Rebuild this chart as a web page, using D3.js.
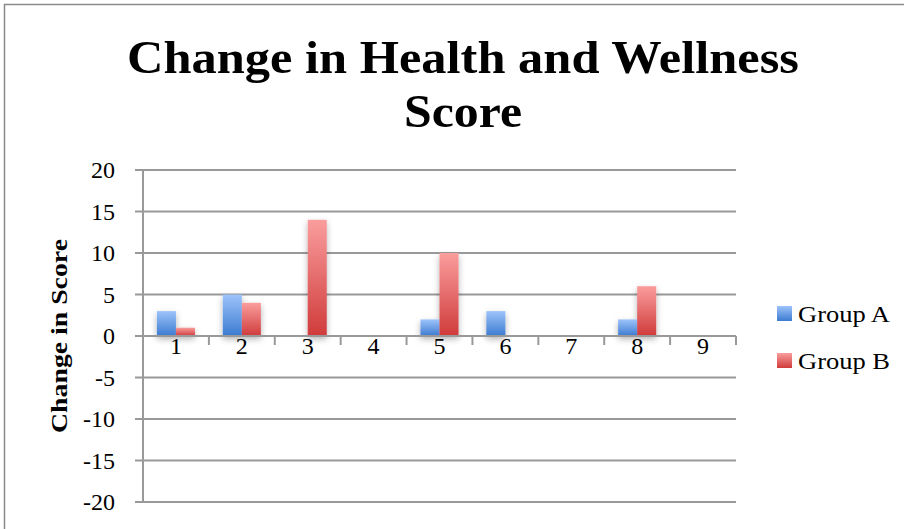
<!DOCTYPE html>
<html>
<head>
<meta charset="utf-8">
<script src="https://cdn.jsdelivr.net/npm/d3@7"></script>
<style>
  body { margin: 0; background: #fff; }
  svg { display: block; }
</style>
</head>
<body>
<div id="chart"></div>
<script>
const categories = ["1", "2", "3", "4", "5", "6", "7", "8", "9"];
const groupA = [3, 5, 0, 0, 2, 3, 0, 2, 0];
const groupB = [1, 4, 14, 0, 10, 0, 0, 6, 0];
const seriesNames = ["Group A", "Group B"];
const yTicks = [20, 15, 10, 5, 0, -5, -10, -15, -20];

const width = 904, height = 529;
const font = "'Liberation Serif', 'DejaVu Serif', serif";
const margin = {left: 143, right: 168, top: 170, bottom: 27};

const svg = d3.select("#chart").append("svg")
  .attr("width", width)
  .attr("height", height);

const defs = svg.append("defs");
// gradients for the two series
const grads = [["gradA", "#9dc3fa", "#3c7bd1"], ["gradB", "#fa9d9d", "#d03b3b"]];
grads.forEach(g => {
  let lg = defs.append("linearGradient").attr("id", g[0])
    .attr("x1", 0).attr("y1", 0).attr("x2", 0).attr("y2", 1);
  lg.append("stop").attr("offset", "0%").attr("stop-color", g[1]);
  lg.append("stop").attr("offset", "100%").attr("stop-color", g[2]);
});
const shadow = defs.append("filter").attr("id", "shadow")
  .attr("x", "-30%").attr("y", "-30%").attr("width", "160%").attr("height", "160%");
shadow.append("feDropShadow").attr("dx", 0).attr("dy", 3).attr("stdDeviation", 3)
  .attr("flood-color", "#000").attr("flood-opacity", 0.3);

// outer chart border
svg.append("path")
  .attr("d", `M4.5,${height} L4.5,4.5 L${width},4.5`)
  .attr("fill", "none").attr("stroke", "#8a8a8a").attr("stroke-width", 1.5);

// title
svg.append("text")
  .attr("x", 463).attr("y", 73)
  .attr("text-anchor", "middle")
  .attr("font-family", font).attr("font-weight", "bold").attr("font-size", 47)
  .attr("textLength", 672).attr("lengthAdjust", "spacingAndGlyphs")
  .text("Change in Health and Wellness");
svg.append("text")
  .attr("x", 463).attr("y", 127)
  .attr("text-anchor", "middle")
  .attr("font-family", font).attr("font-weight", "bold").attr("font-size", 47)
  .attr("textLength", 118).attr("lengthAdjust", "spacingAndGlyphs")
  .text("Score");

const x = d3.scaleBand()
  .domain(categories)
  .range([margin.left, width - margin.right]);

const xSub = d3.scaleBand()
  .domain(seriesNames)
  .range([0, x.bandwidth()])
  .paddingInner(0)
  .paddingOuter(0.73);

const y = d3.scaleLinear()
  .domain([-20, 20])
  .range([height - margin.bottom, margin.top]);

// gridlines
svg.append("g")
  .selectAll("line")
  .data(yTicks)
  .join("line")
  .attr("x1", margin.left - 8).attr("x2", width - margin.right)
  .attr("y1", d => y(d)).attr("y2", d => y(d))
  .attr("stroke", "#999").attr("stroke-width", 2);

// y axis line
svg.append("line")
  .attr("x1", margin.left).attr("x2", margin.left)
  .attr("y1", y(20)).attr("y2", y(-20) + 1)
  .attr("stroke", "#999").attr("stroke-width", 2);

// y tick labels
svg.append("g")
  .selectAll("text")
  .data(yTicks)
  .join("text")
  .attr("x", 115).attr("y", d => y(d))
  .attr("dy", "0.35em")
  .attr("text-anchor", "end")
  .attr("font-family", font).attr("font-size", 24)
  .text(d => d);

// y axis title
svg.append("text")
  .attr("transform", `translate(67,${(y(20) + y(-20)) / 2}) rotate(-90)`)
  .attr("text-anchor", "middle")
  .attr("font-family", font).attr("font-weight", "bold").attr("font-size", 24)
  .attr("textLength", 194).attr("lengthAdjust", "spacingAndGlyphs")
  .text("Change in Score");

// bars
const rows = categories.map((c, i) => ({cat: c, vals: [groupA[i], groupB[i]]}));
const barG = svg.append("g").attr("filter", "url(#shadow)");
rows.forEach(r => {
  r.vals.forEach((v, j) => {
    barG.append("rect")
      .attr("x", x(r.cat) + xSub(seriesNames[j]))
      .attr("width", xSub.bandwidth())
      .attr("y", y(Math.max(v, 0)))
      .attr("height", Math.max(Math.abs(y(v) - y(0)), 0.01))
      .attr("fill", j === 0 ? "url(#gradA)" : "url(#gradB)");
  });
});

// x axis at zero with ticks at category boundaries
svg.append("line")
  .attr("x1", margin.left).attr("x2", width - margin.right)
  .attr("y1", y(0)).attr("y2", y(0))
  .attr("stroke", "#999").attr("stroke-width", 2);
svg.append("g")
  .selectAll("line")
  .data(categories)
  .join("line")
  .attr("x1", d => x(d) + x.bandwidth()).attr("x2", d => x(d) + x.bandwidth())
  .attr("y1", y(0)).attr("y2", y(0) + 9)
  .attr("stroke", "#999").attr("stroke-width", 2);

// x labels
svg.append("g")
  .selectAll("text")
  .data(categories)
  .join("text")
  .attr("x", d => x(d) + x.bandwidth() / 2)
  .attr("y", y(0) + 10)
  .attr("dy", "0.35em")
  .attr("text-anchor", "middle")
  .attr("font-family", font).attr("font-size", 24)
  .text(d => d);

// legend
const legend = svg.append("g")
  .selectAll("g")
  .data(seriesNames)
  .join("g")
  .attr("transform", (d, i) => `translate(777,${306 + i * 47})`);
legend.append("rect")
  .attr("width", 15).attr("height", 15)
  .attr("fill", (d, i) => i === 0 ? "url(#gradA)" : "url(#gradB)");
legend.append("text")
  .attr("x", 21).attr("y", 8)
  .attr("dy", "0.35em")
  .attr("font-family", font).attr("font-size", 24)
  .attr("textLength", 92).attr("lengthAdjust", "spacingAndGlyphs")
  .text(d => d);
</script>
</body>
</html>
